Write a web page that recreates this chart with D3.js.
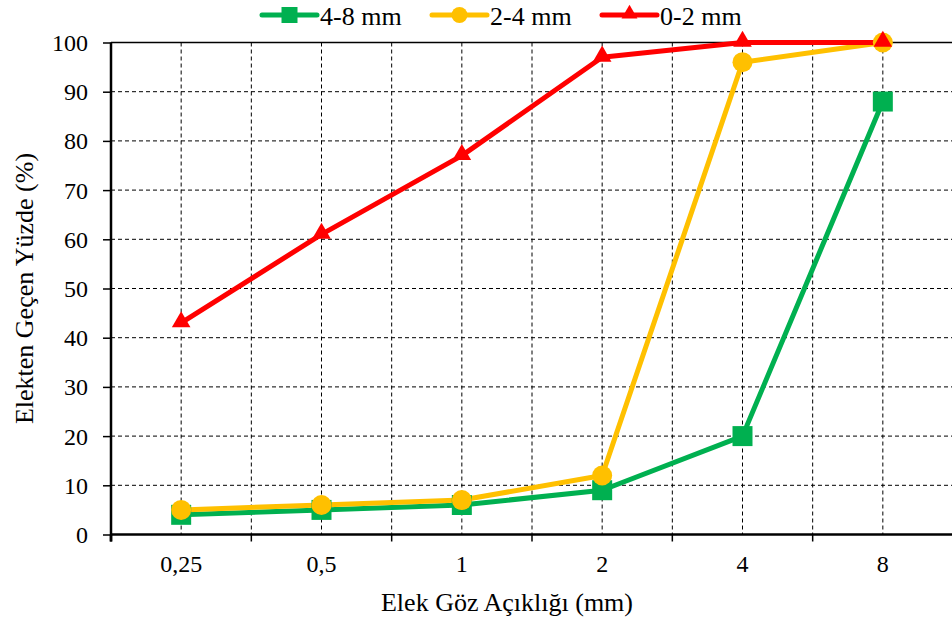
<!DOCTYPE html>
<html><head><meta charset="utf-8">
<script src="https://cdn.jsdelivr.net/npm/d3@7"></script>
<style>body{margin:0;background:#fff}svg{display:block}</style>
</head><body><svg id="c" width="952" height="632"></svg>
<script>
const categories = ["0,25","0,5","1","2","4","8"];
const series48 = [4,5,6,9,20,88];
const series24 = [5,6,7,12,96,100];
const series02 = [43,61,77,97,100,100];
const yTicks = [0,10,20,30,40,50,60,70,80,90,100];
const seriesNames = ["4-8 mm","2-4 mm","0-2 mm"];
const colors = ["#00B050","#FFC000","#FF0000"];
const FONT = "'Liberation Serif', 'Times New Roman', Times, serif";

const svg = d3.select("#c");
const L=111, R=953, T=42.5, B=534.5;
const x = d3.scaleBand().domain(categories).range([L,R]);
const y = d3.scaleLinear().domain([0,100]).range([B,T]);
const cx = c => x(c)+x.bandwidth()/2;

svg.append("g").selectAll("line").data(yTicks.filter(t=>t>0&&t<100)).join("line")
  .attr("x1",L).attr("x2",R).attr("y1",d=>y(d)).attr("y2",d=>y(d))
  .attr("stroke","#000").attr("stroke-width",1).attr("stroke-dasharray","4,3");
const vpos = categories.map(cx).concat(categories.slice(1).map(c=>x(c)));
svg.append("g").selectAll("line").data(vpos).join("line")
  .attr("x1",d=>d).attr("x2",d=>d).attr("y1",T).attr("y2",B)
  .attr("stroke","#000").attr("stroke-width",1).attr("stroke-dasharray","4,3");
svg.append("line").attr("x1",L).attr("x2",R).attr("y1",T).attr("y2",T).attr("stroke","#000").attr("stroke-width",1.5);

const ya = svg.append("g").attr("transform",`translate(${L},0)`)
  .call(d3.axisLeft(y).tickValues(yTicks).tickSize(8).tickPadding(15).tickFormat(d3.format("d")));
ya.attr("font-size",null).attr("font-family",null);
ya.select(".domain").attr("stroke","#000").attr("stroke-width",2.5).attr("d",`M0,${T}V${B+7}`);
ya.selectAll(".tick line").attr("stroke-width",1.5);
ya.selectAll("text").style("font-size","24px").style("font-family",FONT).attr("fill","#000").attr("dy","0.33em");

const xa = svg.append("g").attr("transform",`translate(0,${B})`)
  .call(d3.axisBottom(x).tickSize(0).tickPadding(37));
xa.attr("font-size",null).attr("font-family",null);
xa.select(".domain").attr("stroke","#000").attr("stroke-width",2.5).attr("d",`M${L},0H${R}`);
xa.selectAll("text").style("font-size","24px").style("font-family",FONT).attr("fill","#000").attr("dy","0");
xa.selectAll(".bt").data(categories.slice(1)).join("line").attr("class","bt")
  .attr("x1",d=>x(d)).attr("x2",d=>x(d)).attr("y1",0).attr("y2",7).attr("stroke","#000").attr("stroke-width",1.5);
xa.append("line").attr("x1",L).attr("x2",L).attr("y1",0).attr("y2",7).attr("stroke","#000").attr("stroke-width",2.5);

const data = [series48, series24, series02];
const line = d3.line().x((d,i)=>cx(categories[i])).y(d=>y(d));
data.forEach((s,k)=>{
  svg.append("path").datum(s).attr("d",line).attr("fill","none").attr("stroke",colors[k]).attr("stroke-width",5).attr("stroke-linejoin","round");
});
const sym = [d3.symbolSquare, d3.symbolCircle, d3.symbolTriangle];
const sizes = [400, 314, 150];
data.forEach((s,k)=>{
  svg.append("g").selectAll("path").data(s).join("path")
    .attr("d",d3.symbol().type(sym[k]).size(sizes[k]))
    .attr("transform",(d,i)=>`translate(${cx(categories[i])},${y(d)+(k==2?-1:0)})`)
    .attr("fill",colors[k]);
});

const legX = [262,432,602];
const legSizes=[256,200,110];
seriesNames.forEach((n,k)=>{
  const g = svg.append("g").attr("transform",`translate(${legX[k]},15)`);
  g.append("line").attr("x1",0).attr("x2",55).attr("stroke",colors[k]).attr("stroke-width",5).attr("stroke-linecap","round");
  g.append("path").attr("d",d3.symbol().type(sym[k]).size(legSizes[k])).attr("transform",`translate(27.5,${k==2?-1:0})`).attr("fill",colors[k]);
  g.append("text").attr("x",58).attr("y",10).style("font-size","26px").style("font-family",FONT).attr("fill","#000").text(n);
});

svg.append("text").attr("x",507).attr("y",611).attr("text-anchor","middle").style("font-size","26px").style("font-family",FONT).attr("fill","#000").text("Elek Göz Açıklığı (mm)");
svg.append("text").attr("transform",`translate(33,${(T+B)/2}) rotate(-90)`).attr("text-anchor","middle").style("font-size","26px").style("font-family",FONT).attr("fill","#000").text("Elekten Geçen Yüzde (%)");
</script></body></html>
